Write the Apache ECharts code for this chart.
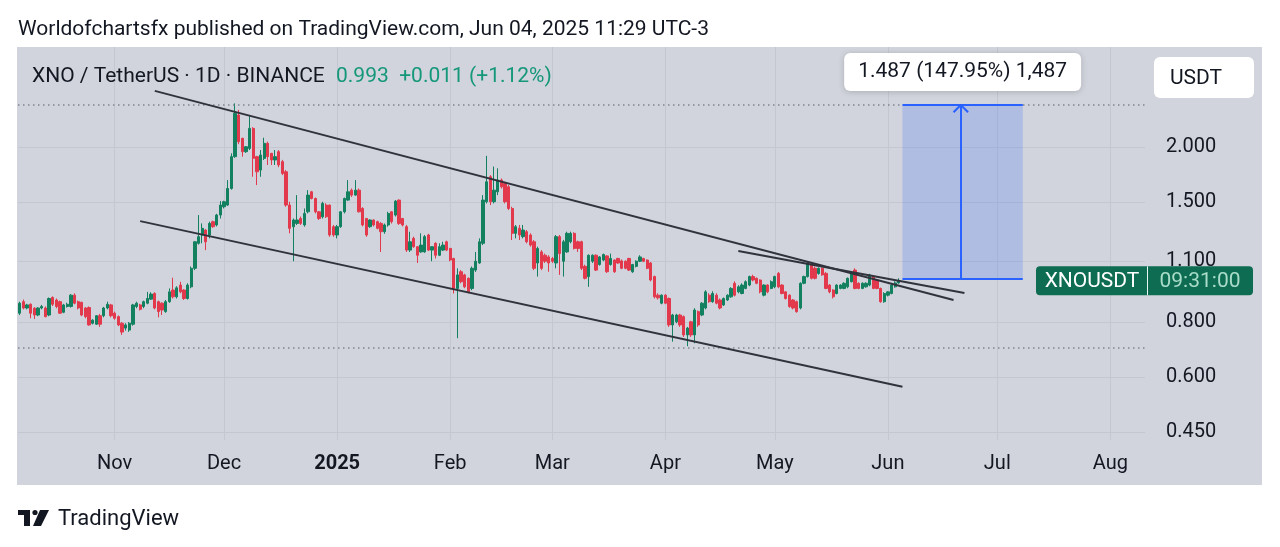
<!DOCTYPE html>
<html>
<head>
<meta charset="utf-8">
<title>XNO / TetherUS · 1D · BINANCE</title>
<script src="https://cdn.jsdelivr.net/npm/echarts@6/dist/echarts.min.js"></script>
<style>
html,body{margin:0;padding:0;background:#ffffff;}
#chart{width:1280px;height:547px;}
</style>
</head>
<body>
<div id="chart"></div>
<script>
// ---------- data ----------
const firstDay = '2024-10-06';
const lastDay = '2025-08-10';
// daily candles from firstDay: [open, close, low, high]
const ohlc = [
 [0.838,0.883,0.830,0.890],[0.890,0.861,0.855,0.900],[0.861,0.875,0.855,0.880],[0.878,0.838,0.816,0.882],[0.860,0.830,0.813,0.865],
 [0.830,0.861,0.825,0.865],[0.861,0.868,0.855,0.875],[0.861,0.823,0.820,0.868],[0.830,0.905,0.825,0.910],[0.910,0.878,0.870,0.915],
 [0.898,0.868,0.860,0.905],[0.890,0.838,0.835,0.895],[0.842,0.875,0.838,0.880],[0.868,0.878,0.863,0.885],[0.868,0.921,0.863,0.926],
 [0.921,0.883,0.878,0.930],[0.890,0.861,0.855,0.895],[0.887,0.830,0.825,0.890],[0.861,0.823,0.816,0.865],[0.863,0.788,0.785,0.868],
 [0.795,0.808,0.790,0.812],[0.791,0.827,0.788,0.830],[0.827,0.791,0.780,0.835],[0.827,0.861,0.820,0.866],[0.861,0.878,0.855,0.890],
 [0.875,0.827,0.820,0.880],
 // Nov
 [0.838,0.816,0.810,0.845],[0.823,0.788,0.783,0.828],[0.795,0.759,0.748,0.800],[0.775,0.788,0.765,0.795],[0.767,0.795,0.760,0.800],
 [0.791,0.875,0.785,0.880],[0.868,0.883,0.860,0.890],[0.875,0.855,0.850,0.880],[0.868,0.890,0.860,0.895],[0.883,0.905,0.878,0.937],
 [0.902,0.926,0.898,0.935],[0.929,0.861,0.855,0.935],[0.890,0.845,0.820,0.895],[0.883,0.852,0.830,0.887],[0.845,0.890,0.840,0.898],
 [0.890,0.937,0.885,0.954],[0.946,0.913,0.905,1.009],[0.913,0.957,0.905,0.965],[0.971,0.937,0.930,0.988],[0.946,0.905,0.898,0.950],
 [0.905,0.971,0.900,0.980],[0.962,1.060,0.955,1.070],[1.060,1.218,1.050,1.220],[1.208,1.251,1.200,1.401],[1.262,1.307,1.208,1.341],
 [1.295,1.218,1.166,1.300],[1.262,1.341,1.240,1.353],[1.353,1.318,1.310,1.360],[1.330,1.401,1.320,1.410],[1.401,1.476,1.376,1.507],
 // Dec
 [1.463,1.502,1.450,1.510],[1.476,1.610,1.470,1.682],[1.610,1.902,1.600,1.935],[1.902,2.386,1.890,2.514],[2.365,2.057,2.030,2.430],
 [2.093,1.952,1.902,2.100],[1.952,2.003,1.940,2.010],[1.986,2.205,1.969,2.365],[2.205,1.885,1.712,2.220],[1.902,1.757,1.639,1.910],
 [1.773,1.918,1.712,1.969],[1.885,2.039,1.869,2.100],[2.039,1.902,1.821,2.057],[1.935,1.869,1.821,1.940],[1.869,1.902,1.821,1.969],
 [1.952,1.821,1.800,1.969],[1.853,1.742,1.727,1.870],[1.757,1.476,1.463,1.773],[1.476,1.307,1.273,1.502],[1.318,1.365,1.100,1.376],
 [1.341,1.365,1.330,1.555],[1.376,1.341,1.330,1.390],[1.330,1.413,1.318,1.450],[1.425,1.555,1.413,1.596],[1.582,1.528,1.520,1.590],
 [1.528,1.425,1.413,1.535],[1.425,1.376,1.365,1.430],[1.388,1.489,1.376,1.502],[1.476,1.388,1.380,1.490],[1.476,1.262,1.250,1.480],
 [1.318,1.262,1.250,1.330],
 // Jan 2025
 [1.262,1.318,1.240,1.330],[1.318,1.425,1.310,1.430],[1.425,1.528,1.413,1.535],[1.515,1.582,1.510,1.682],[1.596,1.555,1.540,1.610],
 [1.555,1.596,1.550,1.682],[1.596,1.425,1.420,1.610],[1.450,1.330,1.320,1.460],[1.376,1.262,1.250,1.380],[1.318,1.365,1.310,1.370],
 [1.365,1.330,1.320,1.370],[1.353,1.307,1.300,1.360],[1.341,1.284,1.155,1.350],[1.284,1.330,1.270,1.340],[1.330,1.413,1.318,1.425],
 [1.425,1.353,1.340,1.430],[1.401,1.507,1.390,1.515],[1.515,1.341,1.330,1.520],[1.376,1.330,1.320,1.380],[1.318,1.166,1.155,1.330],
 [1.166,1.218,1.155,1.284],[1.240,1.187,1.180,1.251],[1.187,1.135,1.090,1.190],[1.155,1.197,1.150,1.273],[1.155,1.251,1.150,1.262],
 [1.262,1.166,1.160,1.270],[1.166,1.187,1.100,1.190],[1.208,1.135,1.116,1.215],[1.135,1.187,1.130,1.208],[1.166,1.197,1.160,1.218],
 [1.218,1.166,1.160,1.225],
 // Feb
 [1.176,1.107,1.100,1.180],[1.116,0.954,0.929,1.120],[0.954,1.024,0.735,1.060],[1.041,0.988,0.980,1.050],[1.024,0.962,0.955,1.030],
 [1.006,0.937,0.930,1.010],[0.954,1.060,0.945,1.070],[1.050,1.100,1.040,1.155],[1.090,1.218,1.085,1.240],[1.208,1.515,1.197,1.555],
 [1.502,1.667,1.489,1.910],[1.712,1.502,1.476,1.727],[1.502,1.596,1.489,1.806],[1.582,1.682,1.555,1.789],[1.682,1.624,1.610,1.697],
 [1.653,1.502,1.489,1.667],[1.624,1.450,1.438,1.639],[1.450,1.273,1.229,1.463],[1.273,1.318,1.240,1.330],[1.307,1.262,1.229,1.330],
 [1.251,1.295,1.240,1.330],[1.284,1.218,1.208,1.295],[1.262,1.197,1.187,1.273],[1.218,1.060,1.050,1.229],[1.090,1.176,1.015,1.187],
 [1.155,1.060,1.050,1.166],[1.135,1.100,1.090,1.145],[1.125,1.090,1.041,1.135],
 // Mar
 [1.116,1.100,1.090,1.125],[1.090,1.251,1.060,1.262],[1.251,1.145,1.024,1.262],[1.100,1.218,1.015,1.230],[1.155,1.273,1.150,1.284],
 [1.218,1.273,1.208,1.284],[1.273,1.176,1.170,1.280],[1.218,1.176,1.155,1.225],[1.218,1.060,1.050,1.225],[1.071,1.006,1.000,1.080],
 [1.015,1.135,0.962,1.140],[1.100,1.135,1.090,1.140],[1.135,1.050,1.045,1.140],[1.081,1.125,1.075,1.130],[1.107,1.139,1.100,1.145],
 [1.131,1.041,1.035,1.135],[1.081,1.116,1.075,1.145],[1.107,1.041,1.035,1.110],[1.116,1.090,1.085,1.120],[1.102,1.060,1.055,1.110],
 [1.100,1.060,1.055,1.105],[1.116,1.050,1.045,1.120],[1.041,1.081,1.035,1.085],[1.071,1.100,1.065,1.105],[1.100,1.125,1.095,1.135],
 [1.116,1.100,1.095,1.120],[1.107,1.060,1.055,1.110],[1.090,0.997,0.990,1.095],[1.015,0.913,0.905,1.020],[0.921,0.908,0.900,0.930],
 [0.883,0.921,0.878,0.925],
 // Apr
 [0.921,0.883,0.878,0.925],[0.905,0.788,0.780,0.910],[0.788,0.830,0.722,0.835],[0.801,0.830,0.795,0.835],[0.830,0.788,0.780,0.835],
 [0.823,0.748,0.740,0.828],[0.748,0.775,0.705,0.780],[0.801,0.748,0.740,0.805],[0.748,0.852,0.716,0.860],[0.845,0.788,0.780,0.850],
 [0.830,0.883,0.825,0.888],[0.861,0.937,0.855,0.945],[0.921,0.890,0.885,0.930],[0.890,0.929,0.885,0.940],[0.921,0.883,0.878,0.930],
 [0.898,0.861,0.855,0.905],[0.875,0.905,0.870,0.910],[0.898,0.921,0.893,0.925],[0.913,0.954,0.908,0.960],[0.980,0.921,0.915,0.990],
 [0.937,0.962,0.930,0.970],[0.929,0.971,0.925,0.980],[0.954,0.988,0.950,0.995],[0.971,1.015,0.965,1.020],[1.015,0.997,0.990,1.025],
 [1.006,0.980,0.975,1.010],[0.997,0.937,0.930,1.000],[0.921,0.971,0.915,0.975],[0.971,0.937,0.930,0.975],[0.954,0.988,0.950,0.995],
 // May
 [0.962,1.015,0.955,1.020],[1.032,0.962,0.955,1.040],[0.971,0.929,0.925,0.975],[0.937,0.905,0.900,0.940],[0.921,0.868,0.862,0.925],
 [0.898,0.861,0.855,0.902],[0.890,0.845,0.840,0.895],[0.861,0.980,0.855,0.985],[0.980,1.015,0.975,1.020],[1.015,1.090,1.010,1.095],
 [1.081,1.006,1.000,1.090],[1.060,1.006,1.000,1.070],[1.032,1.060,1.025,1.065],[1.060,1.024,1.020,1.065],[1.032,0.954,0.950,1.040],
 [0.971,0.937,0.930,0.975],[0.946,0.913,0.905,0.950],[0.929,0.971,0.925,0.975],[0.954,0.971,0.950,0.975],[0.954,0.980,0.950,0.985],
 [0.962,1.006,0.955,1.010],[0.988,1.032,0.985,1.037],[1.050,0.954,0.950,1.060],[0.980,0.954,0.950,0.985],[0.954,0.980,0.950,0.985],
 [0.962,0.980,0.958,0.985],[0.971,1.024,0.965,1.030],[1.015,0.954,0.950,1.020],[0.997,0.954,0.950,1.000],[0.954,0.890,0.885,0.958],
 [0.890,0.929,0.885,0.935],
 // Jun
 [0.921,0.937,0.915,0.940],[0.929,0.971,0.925,0.975],[0.962,0.982,0.958,0.990],[0.982,0.993,0.978,1.006]
];
const priceTicks = [0.45, 0.6, 0.8, 1.1, 1.5, 2.0];
const monthNames = ['Jan','Feb','Mar','Apr','May','Jun','Jul','Aug','Sep','Oct','Nov','Dec'];
const highMark = 2.50;
const lowMark = 0.698;
const lastPrice = 0.993;
const upperChannel = [['2024-11-12', 2.684], ['2025-06-19', 0.898]];
const lowerChannel = [['2024-11-08', 1.357], ['2025-06-05', 0.570]];
const flatLine = [['2025-04-21', 1.160], ['2025-06-22', 0.931]];
const measureX = ['2025-06-05', '2025-07-08'];
const measureY = [1.005, 2.492];
const arrowX = ['2025-06-19', '2025-06-21', '2025-06-23'];
const arrowHeadY = 2.40;
const measureText = '1.487 (147.95%) 1,487';
const titleText = 'Worldofchartsfx published on TradingView.com, Jun 04, 2025 11:29 UTC-3';
const symbolText = 'XNO / TetherUS · 1D · BINANCE';
const quoteText = '0.993  +0.011 (+1.12%)';

// ---------- build ----------
function buildDays(a, b) {
  const p = s => s.split('-').map(Number);
  const [y1, m1, d1] = p(a), [y2, m2, d2] = p(b);
  let t = Date.UTC(y1, m1 - 1, d1);
  const end = Date.UTC(y2, m2 - 1, d2);
  const out = [];
  while (t <= end) { out.push(new Date(t).toISOString().slice(0, 10)); t += 86400000; }
  return out;
}
const days = buildDays(firstDay, lastDay);
const isMonthStart = (i, v) => v.slice(8) === '01';

const FONT = 'Roboto';
const TXT = '#131722';
const UP = '#13805f';
const DOWN = '#e2394c';
const GRIDC = '#c4c7cf';
const BG = '#d1d4dc';
const BLUE = '#2962ff';
const trendStyle = { color: '#30333c', width: 2, type: 'solid' };
const dotStyle = { color: '#80848e', width: 1.5, type: [1.5, 3.5] };
const blueStyle = { color: BLUE, width: 2, type: 'solid' };

const chart = echarts.init(document.getElementById('chart'), null, { renderer: 'canvas' });

const option = {
  animation: false,
  backgroundColor: '#ffffff',
  grid: { left: 18, top: 47, width: 1127, height: 393, outerBoundsMode: 'none', containLabel: false },
  xAxis: {
    type: 'category', data: days, boundaryGap: true,
    axisLine: { show: false }, axisTick: { show: false, alignWithLabel: true },
    axisLabel: {
      interval: isMonthStart, margin: 14, color: TXT, fontSize: 20, fontFamily: FONT,
      formatter: v => { const m = +v.slice(5, 7); return m === 1 ? '{y|' + v.slice(0, 4) + '}' : monthNames[m - 1]; },
      rich: { y: { fontWeight: 'bold', fontSize: 20, fontFamily: FONT, color: TXT } }
    },
    splitLine: { show: true, interval: isMonthStart, alignWithLabel: true, lineStyle: { color: GRIDC, width: 1 } }
  },
  yAxis: {
    type: 'log', logBase: 10, position: 'right', min: 0.4314, max: 3.377,
    axisLine: { show: false },
    axisTick: { show: false, customValues: priceTicks },
    axisLabel: { customValues: priceTicks, formatter: v => Number(v).toFixed(3), color: TXT, fontSize: 20, fontFamily: FONT, margin: 21, align: 'left', padding: [6, 0, 0, 0] },
    splitLine: { show: true, lineStyle: { color: GRIDC, width: 1 } }
  },
  series: [{
    type: 'candlestick', data: ohlc, barWidth: 2.8,
    itemStyle: { color: UP, color0: DOWN, borderColor: UP, borderColor0: DOWN, borderWidth: 1 },
    markArea: {
      silent: true,
      itemStyle: { color: 'rgba(41,98,255,0.2)' },
      label: {
        show: true, position: 'top', distance: 14, formatter: measureText,
        color: TXT, fontSize: 21, fontFamily: FONT, backgroundColor: '#ffffff',
        padding: [8, 14, 9, 14], borderRadius: 6, shadowColor: 'rgba(0,0,0,0.18)', shadowBlur: 6, shadowOffsetY: 1
      },
      data: [[{ xAxis: measureX[0], yAxis: measureY[0] }, { xAxis: measureX[1], yAxis: measureY[1] }]]
    },
    markLine: {
      silent: true, symbol: ['none', 'none'], label: { show: false },
      data: [
        { yAxis: highMark, lineStyle: dotStyle },
        { yAxis: lowMark, lineStyle: dotStyle },
        [{ coord: upperChannel[0], lineStyle: trendStyle }, { coord: upperChannel[1] }],
        [{ coord: lowerChannel[0], lineStyle: trendStyle }, { coord: lowerChannel[1] }],
        [{ coord: flatLine[0], lineStyle: trendStyle }, { coord: flatLine[1] }],
        [{ coord: [measureX[0], measureY[1]], lineStyle: blueStyle }, { coord: [measureX[1], measureY[1]] }],
        [{ coord: [measureX[0], measureY[0]], lineStyle: blueStyle }, { coord: [measureX[1], measureY[0]] }],
        [{ coord: [arrowX[1], measureY[0]], lineStyle: blueStyle }, { coord: [arrowX[1], measureY[1]] }],
        [{ coord: [arrowX[0], arrowHeadY], lineStyle: blueStyle }, { coord: [arrowX[1], measureY[1]] }],
        [{ coord: [arrowX[2], arrowHeadY], lineStyle: blueStyle }, { coord: [arrowX[1], measureY[1]] }]
      ]
    }
  }]
};
chart.setOption(option);

// price tag position from the y scale
const yLast = chart.convertToPixel({ yAxisIndex: 0 }, lastPrice);

chart.setOption({
  graphic: [
    { type: 'rect', z: -100, silent: true, shape: { x: 17, y: 47, width: 1245, height: 438 }, style: { fill: BG } },
    { type: 'text', z: 10, x: 18, y: 29.5, style: { text: titleText, fill: TXT, fontSize: 21, fontFamily: FONT, verticalAlign: 'middle' } },
    { type: 'text', z: 10, x: 32, y: 76.5, style: { text: symbolText, fill: TXT, fontSize: 21, fontFamily: FONT, verticalAlign: 'middle' } },
    { type: 'text', z: 10, x: 336, y: 76.5, style: { text: quoteText, fill: '#15977a', fontSize: 21, fontFamily: FONT, verticalAlign: 'middle' } },
    // USDT box
    { type: 'rect', z: 10, shape: { x: 1154, y: 57, width: 100, height: 41, r: 6 }, style: { fill: '#ffffff' } },
    { type: 'text', z: 11, x: 1170, y: 78.5, style: { text: 'USDT', fill: TXT, fontSize: 21, fontFamily: FONT, verticalAlign: 'middle' } },
    // clip of price scale under the plot
    { type: 'rect', z: 50, silent: true, shape: { x: 1146, y: 437, width: 116, height: 48 }, style: { fill: BG } },
    // last price tag
    { type: 'rect', z: 60, shape: { x: 1036, y: yLast - 14.5, width: 217, height: 29, r: 4 }, style: { fill: '#0d6c51' } },
    { type: 'line', z: 61, shape: { x1: 1147.5, y1: yLast - 14.5, x2: 1147.5, y2: yLast + 14.5 }, style: { stroke: '#e9f5f0', lineWidth: 1 } },
    { type: 'text', z: 62, x: 1092, y: yLast + 1, style: { text: 'XNOUSDT', fill: '#ffffff', fontSize: 21, fontFamily: FONT, align: 'center', verticalAlign: 'middle' } },
    { type: 'text', z: 62, x: 1200, y: yLast + 1, style: { text: '09:31:00', fill: '#a9dcc9', fontSize: 21, fontFamily: FONT, align: 'center', verticalAlign: 'middle' } },
    // TradingView logo
    { type: 'rect', z: 10, shape: { x: 18, y: 510, width: 12, height: 5 }, style: { fill: TXT } },
    { type: 'rect', z: 10, shape: { x: 24, y: 510, width: 6, height: 16 }, style: { fill: TXT } },
    { type: 'circle', z: 10, shape: { cx: 35, cy: 512.5, r: 2.6 }, style: { fill: TXT } },
    { type: 'polygon', z: 10, shape: { points: [[40, 510], [49, 510], [41, 526], [33, 526]] }, style: { fill: TXT } },
    { type: 'text', z: 10, x: 58, y: 519, style: { text: 'TradingView', fill: TXT, fontSize: 22, fontFamily: FONT, verticalAlign: 'middle' } }
  ]
});
</script>
</body>
</html>
